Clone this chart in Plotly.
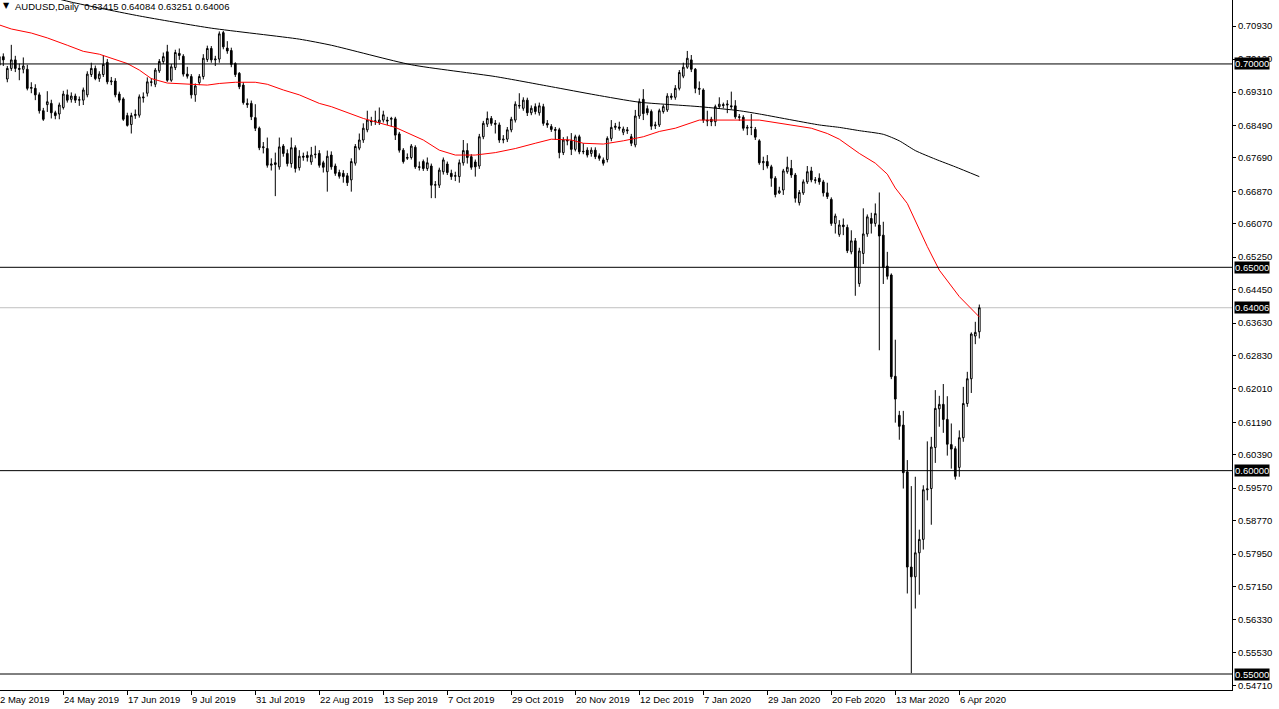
import plotly.graph_objects as go

# ---------------- data ----------------
OPEN = [
    0.6997, 0.7018, 0.6963, 0.6989, 0.7010, 0.6989, 0.6987, 0.6987, 0.6940, 0.6940,
    0.6924, 0.6885, 0.6900, 0.6903, 0.6880, 0.6877, 0.6893, 0.6924, 0.6913, 0.6921,
    0.6911, 0.6911, 0.6924, 0.6974, 0.6989, 0.6964, 0.6974, 0.7004, 0.6956, 0.6958,
    0.6926, 0.6914, 0.6873, 0.6851, 0.6873, 0.6874, 0.6919, 0.6928, 0.6956, 0.6950,
    0.6983, 0.7006, 0.7030, 0.6960, 0.6991, 0.7026, 0.7019, 0.6975, 0.6969, 0.6924,
    0.6954, 0.6969, 0.7011, 0.7038, 0.7010, 0.7012, 0.7077, 0.7039, 0.7033, 0.7001,
    0.6977, 0.6948, 0.6903, 0.6903, 0.6868, 0.6842, 0.6794, 0.6792, 0.6751, 0.6757,
    0.6747, 0.6798, 0.6780, 0.6755, 0.6794, 0.6745, 0.6773, 0.6775, 0.6759, 0.6777,
    0.6780, 0.6757, 0.6735, 0.6776, 0.6749, 0.6733, 0.6731, 0.6725, 0.6715, 0.6756,
    0.6793, 0.6813, 0.6838, 0.6860, 0.6858, 0.6856, 0.6862, 0.6862, 0.6864, 0.6865,
    0.6828, 0.6788, 0.6768, 0.6770, 0.6795, 0.6747, 0.6760, 0.6743, 0.6749, 0.6702,
    0.6702, 0.6735, 0.6754, 0.6731, 0.6724, 0.6723, 0.6757, 0.6787, 0.6772, 0.6759,
    0.6749, 0.6821, 0.6852, 0.6866, 0.6854, 0.6850, 0.6813, 0.6815, 0.6838, 0.6862,
    0.6898, 0.6891, 0.6911, 0.6880, 0.6895, 0.6880, 0.6895, 0.6854, 0.6846, 0.6839,
    0.6838, 0.6782, 0.6813, 0.6811, 0.6790, 0.6821, 0.6784, 0.6788, 0.6780, 0.6788,
    0.6774, 0.6764, 0.6765, 0.6817, 0.6844, 0.6845, 0.6832, 0.6838, 0.6821, 0.6801,
    0.6872, 0.6913, 0.6890, 0.6883, 0.6848, 0.6850, 0.6883, 0.6887, 0.6921, 0.6918,
    0.6940, 0.6970, 0.6992, 0.7010, 0.6987, 0.6940, 0.6936, 0.6862, 0.6864, 0.6858,
    0.6895, 0.6900, 0.6899, 0.6897, 0.6897, 0.6870, 0.6869, 0.6842, 0.6844, 0.6839,
    0.6811, 0.6757, 0.6760, 0.6747, 0.6719, 0.6683, 0.6690, 0.6735, 0.6743, 0.6727,
    0.6659, 0.6683, 0.6710, 0.6737, 0.6715, 0.6719, 0.6710, 0.6683, 0.6667, 0.6608,
    0.6581, 0.6604, 0.6598, 0.6538, 0.6565, 0.6460, 0.6534, 0.6582, 0.6620, 0.6608,
    0.6604, 0.6579, 0.6503, 0.6481, 0.6232, 0.6136, 0.6112, 0.5997, 0.5763, 0.5739,
    0.5798, 0.5831, 0.5953, 0.5956, 0.6057, 0.6152, 0.6163, 0.6126, 0.6064, 0.6054,
    0.6008, 0.6081, 0.6165, 0.6226, 0.6331, 0.63415,
]
HIGH = [
    0.7030, 0.7026, 0.6995, 0.7047, 0.7020, 0.7001, 0.7016, 0.6998, 0.6955, 0.6950,
    0.6930, 0.6892, 0.6933, 0.6912, 0.6885, 0.6905, 0.6934, 0.6937, 0.6930, 0.6927,
    0.6920, 0.6942, 0.6982, 0.7003, 0.6996, 0.6982, 0.7022, 0.7012, 0.6968, 0.6965,
    0.6932, 0.6918, 0.6880, 0.6880, 0.6888, 0.6925, 0.6930, 0.6967, 0.6965, 0.6990,
    0.7012, 0.7028, 0.7047, 0.7000, 0.7035, 0.7038, 0.7024, 0.6993, 0.6975, 0.6952,
    0.6975, 0.7024, 0.7045, 0.7044, 0.7020, 0.7080, 0.7081, 0.7056, 0.7040, 0.7004,
    0.6980, 0.6955, 0.6915, 0.6910, 0.6901, 0.6846, 0.6808, 0.6819, 0.6768, 0.6782,
    0.6819, 0.6803, 0.6790, 0.6819, 0.6800, 0.6788, 0.6782, 0.6785, 0.6796, 0.6799,
    0.6788, 0.6762, 0.6787, 0.6785, 0.6755, 0.6740, 0.6739, 0.6732, 0.6768, 0.6803,
    0.6829, 0.6854, 0.6885, 0.6870, 0.6885, 0.6893, 0.6885, 0.6870, 0.6870, 0.6870,
    0.6833, 0.6793, 0.6780, 0.6803, 0.6800, 0.6760, 0.6765, 0.6770, 0.6755, 0.6712,
    0.6745, 0.6770, 0.6760, 0.6740, 0.6735, 0.6765, 0.6813, 0.6805, 0.6778, 0.6765,
    0.6828, 0.6860, 0.6883, 0.6872, 0.6862, 0.6856, 0.6825, 0.6845, 0.6870, 0.6908,
    0.6928, 0.6918, 0.6917, 0.6898, 0.6903, 0.6905, 0.6902, 0.6862, 0.6852, 0.6845,
    0.6843, 0.6820, 0.6822, 0.6830, 0.6826, 0.6826, 0.6805, 0.6795, 0.6795, 0.6795,
    0.6780, 0.6770, 0.6822, 0.6862, 0.6855, 0.6858, 0.6846, 0.6845, 0.6828, 0.6887,
    0.6915, 0.6938, 0.6898, 0.6888, 0.6858, 0.6890, 0.6900, 0.6928, 0.6928, 0.6948,
    0.6985, 0.7003, 0.7032, 0.7022, 0.6990, 0.6957, 0.6940, 0.6885, 0.6870, 0.6900,
    0.6918, 0.6905, 0.6911, 0.6932, 0.6911, 0.6877, 0.6874, 0.6850, 0.6877, 0.6845,
    0.6815, 0.6772, 0.6776, 0.6752, 0.6724, 0.6698, 0.6742, 0.6772, 0.6764, 0.6732,
    0.6690, 0.6716, 0.6749, 0.6747, 0.6722, 0.6731, 0.6715, 0.6708, 0.6672, 0.6632,
    0.6616, 0.6620, 0.6605, 0.6591, 0.6572, 0.6548, 0.6645, 0.6630, 0.6634, 0.6657,
    0.6684, 0.6612, 0.6538, 0.6485, 0.6322, 0.6147, 0.6147, 0.6026, 0.5962, 0.5985,
    0.5855, 0.5964, 0.6072, 0.6083, 0.6198, 0.6184, 0.6213, 0.6183, 0.6116, 0.6060,
    0.6099, 0.6206, 0.6243, 0.6340, 0.6366, 0.64084,
]
LOW = [
    0.6990, 0.6995, 0.6955, 0.6983, 0.6980, 0.6960, 0.6977, 0.6935, 0.6928, 0.6911,
    0.6878, 0.6860, 0.6882, 0.6866, 0.6864, 0.6864, 0.6888, 0.6905, 0.6905, 0.6904,
    0.6897, 0.6899, 0.6918, 0.6968, 0.6960, 0.6956, 0.6968, 0.6950, 0.6948, 0.6918,
    0.6905, 0.6860, 0.6846, 0.6829, 0.6865, 0.6868, 0.6905, 0.6920, 0.6945, 0.6943,
    0.6978, 0.7000, 0.6956, 0.6956, 0.6985, 0.7010, 0.6969, 0.6964, 0.6915, 0.6907,
    0.6948, 0.6962, 0.7005, 0.7003, 0.6995, 0.7003, 0.7036, 0.7025, 0.6992, 0.6968,
    0.6938, 0.6900, 0.6892, 0.6862, 0.6835, 0.6788, 0.6780, 0.6745, 0.6738, 0.6675,
    0.6740, 0.6772, 0.6748, 0.6745, 0.6733, 0.6738, 0.6762, 0.6760, 0.6752, 0.6768,
    0.6745, 0.6733, 0.6686, 0.6740, 0.6725, 0.6718, 0.6708, 0.6700, 0.6686, 0.6750,
    0.6788, 0.6806, 0.6832, 0.6848, 0.6850, 0.6850, 0.6856, 0.6850, 0.6846, 0.6813,
    0.6782, 0.6755, 0.6764, 0.6765, 0.6742, 0.6738, 0.6737, 0.6737, 0.6670, 0.6670,
    0.6695, 0.6728, 0.6727, 0.6715, 0.6712, 0.6708, 0.6750, 0.6755, 0.6740, 0.6723,
    0.6742, 0.6815, 0.6845, 0.6848, 0.6829, 0.6806, 0.6805, 0.6808, 0.6832, 0.6856,
    0.6890, 0.6885, 0.6872, 0.6874, 0.6876, 0.6873, 0.6848, 0.6843, 0.6833, 0.6813,
    0.6768, 0.6776, 0.6800, 0.6776, 0.6785, 0.6778, 0.6778, 0.6770, 0.6772, 0.6766,
    0.6762, 0.6750, 0.6758, 0.6810, 0.6838, 0.6836, 0.6825, 0.6828, 0.6798, 0.6795,
    0.6865, 0.6862, 0.6874, 0.6838, 0.6840, 0.6845, 0.6878, 0.6882, 0.6912, 0.6912,
    0.6935, 0.6965, 0.6988, 0.6980, 0.6928, 0.6924, 0.6855, 0.6847, 0.6847, 0.6847,
    0.6890, 0.6891, 0.6879, 0.6888, 0.6865, 0.6860, 0.6836, 0.6825, 0.6825, 0.6813,
    0.6752, 0.6739, 0.6743, 0.6698, 0.6672, 0.6680, 0.6678, 0.6730, 0.6720, 0.6659,
    0.6652, 0.6678, 0.6705, 0.6709, 0.6706, 0.6703, 0.6674, 0.6668, 0.6602, 0.6583,
    0.6575, 0.6579, 0.6535, 0.6532, 0.6430, 0.6452, 0.6508, 0.6575, 0.6583, 0.6600,
    0.6296, 0.6459, 0.6470, 0.6225, 0.6118, 0.6076, 0.5956, 0.5698, 0.5502, 0.5661,
    0.5695, 0.5806, 0.5927, 0.5867, 0.6019, 0.6108, 0.6093, 0.6037, 0.6005, 0.5978,
    0.5985, 0.6071, 0.6157, 0.6191, 0.6311, 0.63251,
]
CLOSE = [
    0.7018, 0.7010, 0.6989, 0.7010, 0.6989, 0.6987, 0.6995, 0.6940, 0.6942, 0.6924,
    0.6885, 0.6864, 0.6907, 0.6880, 0.6873, 0.6899, 0.6926, 0.6911, 0.6921, 0.6911,
    0.6912, 0.6936, 0.6975, 0.6989, 0.6964, 0.6975, 0.6999, 0.6956, 0.6958, 0.6924,
    0.6911, 0.6864, 0.6849, 0.6873, 0.6876, 0.6919, 0.6917, 0.6956, 0.6955, 0.6985,
    0.7006, 0.7018, 0.6960, 0.6993, 0.7028, 0.7021, 0.6975, 0.6970, 0.6924, 0.6946,
    0.6969, 0.7014, 0.7038, 0.7010, 0.7012, 0.7074, 0.7042, 0.7032, 0.6999, 0.6974,
    0.6944, 0.6905, 0.6900, 0.6870, 0.6842, 0.6794, 0.6796, 0.6751, 0.6754, 0.6753,
    0.6796, 0.6780, 0.6755, 0.6794, 0.6743, 0.6773, 0.6771, 0.6770, 0.6776, 0.6778,
    0.6751, 0.6746, 0.6773, 0.6747, 0.6731, 0.6724, 0.6723, 0.6708, 0.6760, 0.6797,
    0.6813, 0.6842, 0.6862, 0.6858, 0.6860, 0.6862, 0.6875, 0.6860, 0.6866, 0.6825,
    0.6788, 0.6760, 0.6770, 0.6798, 0.6747, 0.6746, 0.6743, 0.6757, 0.6702, 0.6703,
    0.6739, 0.6764, 0.6733, 0.6723, 0.6725, 0.6757, 0.6787, 0.6770, 0.6746, 0.6747,
    0.6821, 0.6854, 0.6866, 0.6854, 0.6852, 0.6813, 0.6815, 0.6838, 0.6864, 0.6901,
    0.6897, 0.6911, 0.6880, 0.6891, 0.6883, 0.6897, 0.6854, 0.6850, 0.6839, 0.6837,
    0.6782, 0.6813, 0.6811, 0.6790, 0.6821, 0.6784, 0.6785, 0.6776, 0.6788, 0.6772,
    0.6768, 0.6756, 0.6817, 0.6844, 0.6847, 0.6842, 0.6840, 0.6836, 0.6805, 0.6872,
    0.6907, 0.6878, 0.6880, 0.6847, 0.6850, 0.6885, 0.6895, 0.6921, 0.6918, 0.6940,
    0.6979, 0.6992, 0.7014, 0.6987, 0.6940, 0.6938, 0.6862, 0.6860, 0.6858, 0.6895,
    0.6901, 0.6898, 0.6901, 0.6895, 0.6870, 0.6869, 0.6842, 0.6844, 0.6844, 0.6820,
    0.6757, 0.6760, 0.6749, 0.6719, 0.6679, 0.6688, 0.6737, 0.6746, 0.6727, 0.6670,
    0.6684, 0.6710, 0.6735, 0.6715, 0.6714, 0.6710, 0.6683, 0.6674, 0.6608, 0.6626,
    0.6604, 0.6600, 0.6541, 0.6565, 0.6500, 0.6540, 0.6582, 0.6624, 0.6608, 0.6632,
    0.6577, 0.6500, 0.6478, 0.6231, 0.6176, 0.6109, 0.5995, 0.5763, 0.5739, 0.5798,
    0.5831, 0.5953, 0.5955, 0.6058, 0.6153, 0.6163, 0.6126, 0.6065, 0.6053, 0.5986,
    0.6081, 0.6165, 0.6226, 0.6336, 0.6340, 0.64006,
]

# moving averages (bar index -> value)
MA50_IDX = [0, 3, 8, 12, 17, 21, 25, 29, 32, 35, 38, 42, 47, 52, 55, 59, 64, 67, 71, 75,
            80, 83, 91, 99, 106, 110, 114, 119, 124, 129, 134, 138, 143, 146, 151, 156,
            161, 165, 169, 175, 190, 195, 203, 207, 210, 215, 219, 222, 224, 227, 232, 235,
            240, 245]
MA50_VAL = [0.7096, 0.7086, 0.7076, 0.7064, 0.7046, 0.7031, 0.7024, 0.7010, 0.7001, 0.6985,
            0.6964, 0.6953, 0.6951, 0.6948, 0.6952, 0.6955, 0.6955, 0.6950, 0.6936, 0.6924,
            0.6903, 0.6895, 0.6866, 0.6844, 0.6813, 0.6788, 0.6776, 0.6776, 0.6782, 0.6792,
            0.6805, 0.6815, 0.6813, 0.6805, 0.6803, 0.6811, 0.6821, 0.6834, 0.6842, 0.6862,
            0.6862, 0.6854, 0.6842, 0.6829, 0.6815, 0.6780, 0.6756, 0.6729, 0.6695, 0.6657,
            0.6551, 0.6493, 0.6428, 0.6378]
MA200_IDX = [10, 18, 35, 53, 75, 83, 103, 124, 138, 149, 160, 175, 185, 190, 205, 210,
             215, 221, 225, 229, 234, 239, 245]
MA200_VAL = [0.7172, 0.7152, 0.7118, 0.7088, 0.7061, 0.7046, 0.6998, 0.6969, 0.6944, 0.6924,
             0.6906, 0.6895, 0.6885, 0.6877, 0.6850, 0.6844, 0.6836, 0.6827, 0.6811, 0.6787,
             0.6766, 0.6747, 0.6723]

DATE_LABELS = ["2 May 2019", "24 May 2019", "17 Jun 2019", "9 Jul 2019", "31 Jul 2019",
               "22 Aug 2019", "13 Sep 2019", "7 Oct 2019", "29 Oct 2019", "20 Nov 2019",
               "12 Dec 2019", "7 Jan 2020", "29 Jan 2020", "20 Feb 2020", "13 Mar 2020",
               "6 Apr 2020"]
BARS_PER_LABEL = 16
PRICE_TICKS = [0.70930, 0.70120, 0.69310, 0.68490, 0.67690, 0.66870, 0.66070, 0.65250,
               0.64450, 0.63630, 0.62830, 0.62010, 0.61190, 0.60390, 0.59570, 0.58770,
               0.57950, 0.57150, 0.56330, 0.55530, 0.54710]
LEVELS = [0.70, 0.65, 0.60, 0.55]
BID = 0.64006
SYMBOL = "AUDUSD,Daily"
OHLC_LAST = ["0.63415", "0.64084", "0.63251", "0.64006"]

# ---------------- figure ----------------
FONT = "Liberation Sans, Arial, sans-serif"
XMIN, XMAX = 0.175, 308.175
YMIN, YMAX = 0.546066, 0.715724

x = list(range(len(OPEN)))

fig = go.Figure()
fig.add_trace(go.Candlestick(
    x=x, open=OPEN, high=HIGH, low=LOW, close=CLOSE,
    increasing=dict(fillcolor="#ffffff", line=dict(color="#000000", width=1)),
    decreasing=dict(fillcolor="#000000", line=dict(color="#000000", width=1)),
    whiskerwidth=0, hoverinfo="skip", showlegend=False,
))
fig.add_trace(go.Scatter(x=MA50_IDX, y=MA50_VAL, mode="lines",
                         line=dict(color="#ff0000", width=1), hoverinfo="skip",
                         showlegend=False))
fig.add_trace(go.Scatter(x=MA200_IDX, y=MA200_VAL, mode="lines",
                         line=dict(color="#000000", width=1, shape="spline", smoothing=0.6),
                         hoverinfo="skip", showlegend=False))

shapes = []
for lv in LEVELS:
    shapes.append(dict(type="line", xref="paper", x0=0, x1=1, yref="y", y0=lv, y1=lv,
                       line=dict(color="#000000", width=1), layer="above"))
shapes.append(dict(type="line", xref="paper", x0=0, x1=1, yref="y", y0=BID, y1=BID,
                   line=dict(color="#c0c0c0", width=1), layer="below"))

annotations = []
# chart caption
annotations.append(dict(xref="paper", yref="paper", x=0, y=1, xanchor="left", yanchor="top",
                        xshift=1, yshift=1, text="▼", showarrow=False,
                        font=dict(family="DejaVu Sans", size=8, color="#000000")))
annotations.append(dict(xref="paper", yref="paper", x=0, y=1, xanchor="left", yanchor="top",
                        xshift=13, yshift=1,
                        text=SYMBOL + "\u00a0\u00a0" + "\u00a0".join(OHLC_LAST),
                        showarrow=False, font=dict(family=FONT, size=9.5, color="#000000")))
# time labels (left-aligned at their tick, MT4 style)
for k, lab in enumerate(DATE_LABELS):
    pos = (k * BARS_PER_LABEL - XMIN) / (XMAX - XMIN)
    annotations.append(dict(xref="paper", yref="paper", x=pos, y=0, xanchor="left",
                            yanchor="top", xshift=-1, yshift=-2, text=lab, showarrow=False,
                            font=dict(family=FONT, size=9.5, color="#000000")))
# price boxes on the axis
for lv in LEVELS + [BID]:
    annotations.append(dict(xref="paper", yref="y", x=1, y=lv, xanchor="left",
                            yanchor="middle", xshift=2, text=f"{lv:.5f}", showarrow=False,
                            bgcolor="#000000", borderpad=0,
                            font=dict(family=FONT, size=9.5, color="#ffffff")))

fig.update_layout(
    width=1279, height=709, autosize=False,
    margin=dict(l=0, r=47, t=0, b=19, pad=0),
    paper_bgcolor="#ffffff", plot_bgcolor="#ffffff",
    boxgap=0.4,
    showlegend=False,
    shapes=shapes, annotations=annotations,
    xaxis=dict(range=[XMIN, XMAX], showgrid=False, zeroline=False,
               rangeslider=dict(visible=False),
               showline=True, linecolor="#000000", linewidth=1,
               ticks="outside", ticklen=4, tickcolor="#000000", tickwidth=1,
               tickvals=[k * BARS_PER_LABEL for k in range(len(DATE_LABELS))],
               showticklabels=False, fixedrange=True),
    yaxis=dict(range=[YMIN, YMAX], side="right", showgrid=False, zeroline=False,
               showline=True, linecolor="#000000", linewidth=1,
               ticks="outside", ticklen=3, tickcolor="#000000", tickwidth=1,
               tickvals=PRICE_TICKS, ticktext=[f"{v:.5f}" for v in PRICE_TICKS],
               tickfont=dict(family=FONT, size=9.5, color="#000000"), fixedrange=True),
    hovermode=False,
)

fig.write_html("out.html", config={"displayModeBar": False, "staticPlot": True},
               post_script="document.body.style.margin='0';document.body.style.overflow='hidden';")
